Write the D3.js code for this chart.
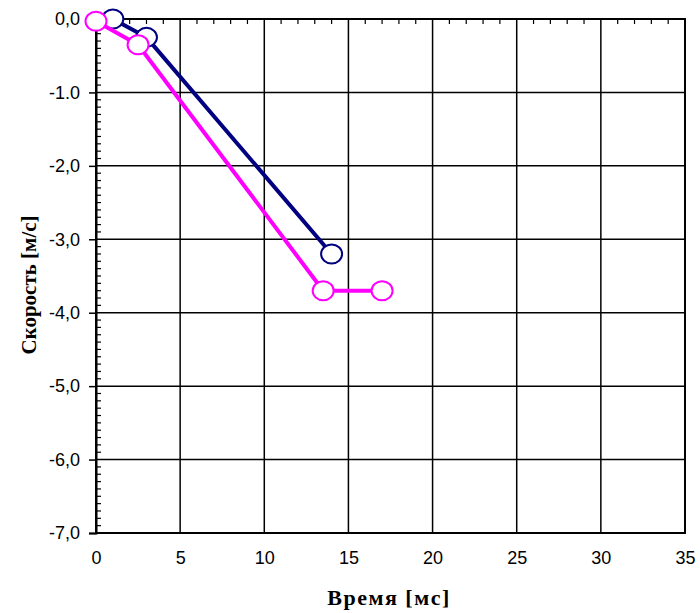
<!DOCTYPE html>
<html><head><meta charset="utf-8">
<script src="https://cdn.jsdelivr.net/npm/d3@7"></script>
<style>html,body{margin:0;padding:0;background:#fff;}</style>
</head><body>
<svg id="chart" width="700" height="613"></svg>
<script>
const xTicks = [0, 5, 10, 15, 20, 25, 30, 35];
const yTicks = [0, -1, -2, -3, -4, -5, -6, -7];
const yTickLabels = ["0,0", "-1.0", "-2,0", "-3,0", "-4,0", "-5,0", "-6,0", "-7,0"];
const navyX = [1, 3, 14];
const navyY = [0, -0.25, -3.2];
const magentaX = [0, 2.5, 13.5, 17];
const magentaY = [-0.03, -0.35, -3.7, -3.7];
const xTitle = "Время [мс]";
const yTitle = "Скорость [м/с]";

const svg = d3.select("#chart");
const L = 96, R = 685, T = 19, B = 533;
const x = d3.scaleLinear().domain([0, 35]).range([L, R]);
const y = d3.scaleLinear().domain([-7, 0]).range([B, T]);

// gridlines
svg.append("g").selectAll("line").data(yTicks).join("line")
  .attr("x1", L).attr("x2", R).attr("y1", d => y(d)).attr("y2", d => y(d))
  .attr("stroke", "#000").attr("stroke-width", 1.5);
svg.append("g").selectAll("line").data(xTicks).join("line")
  .attr("y1", T).attr("y2", B).attr("x1", d => x(d)).attr("x2", d => x(d))
  .attr("stroke", "#000").attr("stroke-width", 1.5);

// frame
svg.append("rect").attr("x", L).attr("y", T).attr("width", R - L).attr("height", B - T)
  .attr("fill", "none").attr("stroke", "#000").attr("stroke-width", 2);

// y axis major ticks with labels
const yAxis = d3.axisLeft(y).tickValues(yTicks)
  .tickFormat((d, i) => yTickLabels[i]).tickSize(7).tickPadding(9);
const gy = svg.append("g").attr("transform", `translate(${L},0)`).call(yAxis);
gy.select(".domain").attr("stroke-width", 2);
gy.selectAll(".tick line").attr("stroke-width", 1.5);
gy.selectAll("text").attr("font-family", "Liberation Sans, Arial, sans-serif")
  .attr("font-size", 18).attr("fill", "#000");

// y minor ticks (inside)
const yMinor = d3.range(-70, 1).map(v => v / 10).filter(v => Math.abs(v - Math.round(v)) > 1e-6);
svg.append("g").selectAll("line").data(yMinor).join("line")
  .attr("x1", L).attr("x2", L + 5).attr("y1", d => y(d)).attr("y2", d => y(d))
  .attr("stroke", "#000").attr("stroke-width", 1.2);

// top minor ticks
const xMinor = d3.range(0, 36).filter(v => v % 5 !== 0);
svg.append("g").selectAll("line").data(xMinor).join("line")
  .attr("y1", T).attr("y2", T + 5).attr("x1", d => x(d)).attr("x2", d => x(d))
  .attr("stroke", "#000").attr("stroke-width", 1.2);

// x axis labels
const xAxis = d3.axisBottom(x).tickValues(xTicks).tickSize(0).tickPadding(18);
const gx = svg.append("g").attr("transform", `translate(0,${B})`).call(xAxis);
gx.select(".domain").remove();
gx.selectAll("text").attr("font-family", "Liberation Sans, Arial, sans-serif")
  .attr("font-size", 18).attr("fill", "#000");

// titles
svg.append("text").attr("x", 389).attr("y", 605).attr("text-anchor", "middle")
  .attr("font-family", "Liberation Serif, Times New Roman, serif").attr("font-weight", "bold")
  .attr("font-size", 22).attr("letter-spacing", 1.5).text(xTitle);
svg.append("text").attr("transform", "translate(36,285) rotate(-90)").attr("text-anchor", "middle")
  .attr("font-family", "Liberation Serif, Times New Roman, serif").attr("font-weight", "bold")
  .attr("font-size", 21).text(yTitle);

// series
const line = d3.line().x(d => x(d[0])).y(d => y(d[1]));
function drawSeries(xs, ys, color) {
  const pts = xs.map((v, i) => [v, ys[i]]);
  const g = svg.append("g");
  g.append("path").datum(pts).attr("d", line).attr("fill", "none")
    .attr("stroke", color).attr("stroke-width", 4).attr("stroke-linejoin", "round");
  g.selectAll("ellipse").data(pts).join("ellipse")
    .attr("cx", d => x(d[0])).attr("cy", d => y(d[1])).attr("rx", 10.5).attr("ry", 9.5)
    .attr("fill", "#fff").attr("stroke", color).attr("stroke-width", 2);
}
drawSeries(navyX, navyY, "#000080");
drawSeries(magentaX, magentaY, "#FF00FF");
</script>
</body></html>
